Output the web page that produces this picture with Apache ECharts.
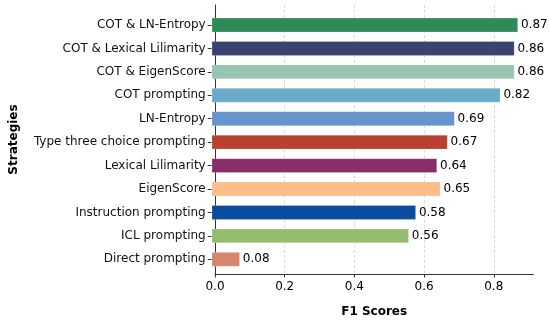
<!DOCTYPE html>
<html><head><meta charset="utf-8">
<script src="https://cdn.jsdelivr.net/npm/echarts@6/dist/echarts.min.js"></script>
<style>html,body{margin:0;padding:0;background:#fff}#c{width:550px;height:323px}</style>
</head><body><div id="c"></div>
<script>
const categories = ["COT & LN-Entropy","COT & Lexical Lilimarity","COT & EigenScore","COT prompting","LN-Entropy","Type three choice prompting","Lexical Lilimarity","EigenScore","Instruction prompting","ICL prompting","Direct prompting"];
const values = [0.87,0.86,0.86,0.82,0.69,0.67,0.64,0.65,0.58,0.56,0.08];
const labels = ["0.87","0.86","0.86","0.82","0.69","0.67","0.64","0.65","0.58","0.56","0.08"];
const colors = ["#2e8a57","#3a4272","#96c6b2","#6aabca","#6694cc","#b8412f","#8a2e6a","#fdbd88","#0b4c9c","#96bc70","#d4876e"];
const xTicks = [0,0.2,0.4,0.6,0.8];
const xMax = 0.9135;

const font = 'DejaVu Sans';
const chart = echarts.init(document.getElementById('c'), null, {renderer:'canvas'});
chart.setOption({
  animation:false,
  textStyle:{fontFamily:font},
  grid:[
    {left:211.7,right:16.7,top:5,bottom:44.7},
    {left:211.7,right:16.7,top:13.3,bottom:52}
  ],
  xAxis:[
    {gridIndex:0,type:'value',min:0,max:xMax,interval:0.2,
     name:'F1 Scores',nameLocation:'middle',nameGap:32,
     nameTextStyle:{fontFamily:font,fontWeight:'bold',fontSize:12,color:'#000'},
     axisLine:{show:true,lineStyle:{color:'#333',width:1}},
     axisTick:{show:true,length:3.5,lineStyle:{color:'#333'},
       customValues:xTicks},
     axisLabel:{fontFamily:font,fontSize:12,color:'#000',margin:6.5,
       customValues:xTicks,
       formatter:v=>v.toFixed(1)},
     splitLine:{show:true,lineStyle:{color:'#d0d0d0',type:[3,2],width:0.8}}
    },
    {gridIndex:1,type:'value',min:0,max:xMax,show:false,splitLine:{show:false}}
  ],
  yAxis:[
    {gridIndex:0,type:'value',min:0,max:1,
     name:'Strategies',nameLocation:'middle',nameGap:195,nameRotate:90,
     nameTextStyle:{fontFamily:font,fontWeight:'bold',fontSize:12,color:'#000'},
     axisLine:{show:true,lineStyle:{color:'#333',width:1}},
     axisTick:{show:false},axisLabel:{show:false},splitLine:{show:false}},
    {gridIndex:1,type:'category',data:categories,inverse:true,
     axisLine:{show:false},
     axisTick:{show:true,alignWithLabel:true,length:4,lineStyle:{color:'#333'}},
     axisLabel:{fontFamily:font,fontSize:12,color:'#111',margin:6}}
  ],
  series:[{
    type:'bar',xAxisIndex:1,yAxisIndex:1,
    barWidth:14.5,
    data:values.map((v,i)=>({value:v,itemStyle:{color:colors[i],borderColor:'rgba(255,255,255,0.35)',borderWidth:0.6}})),
    label:{show:true,position:'right',distance:3,fontFamily:font,fontSize:12,color:'#000',
      formatter:p=>labels[p.dataIndex]}
  }]
});
</script></body></html>
